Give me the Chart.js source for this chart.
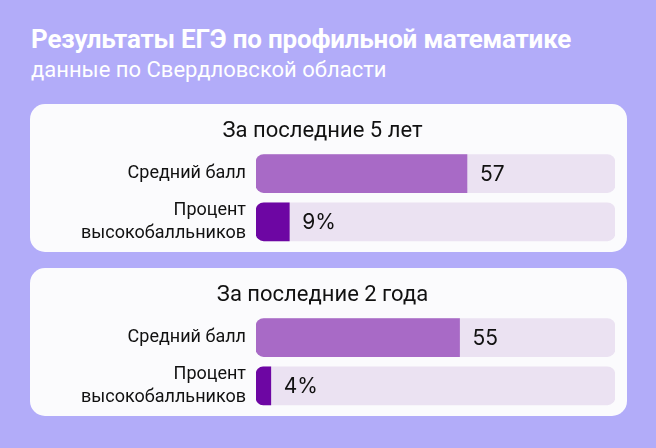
<!DOCTYPE html>
<html>
<head>
<meta charset="utf-8">
<script src="https://cdn.jsdelivr.net/npm/chart.js@4"></script>
<style>
    html, body { margin: 0; padding: 0; }
    body { width: 656px; height: 448px; background: #b2acf9; position: relative; overflow: hidden; font-family: Roboto, sans-serif; }
    #title { position: absolute; left: 31px; top: 24px; color: #fff; font: bold 26px Roboto; letter-spacing: -0.2px; }
    #subtitle { position: absolute; left: 31px; top: 57px; color: #fff; font: 22px Roboto; }
    .card { position: absolute; left: 30px; width: 597px; height: 148px; background: #fbfbfd; border-radius: 15px; }
    .card canvas { display: block; }
</style>
</head>
<body>
<div id="title">Результаты ЕГЭ по профильной математике</div>
<div id="subtitle">данные по Свердловской области</div>
<div class="card" style="top:104px"><canvas id="c1"></canvas></div>
<div class="card" style="top:268px"><canvas id="c2"></canvas></div>
<script>
'use strict';

const categories = [['Средний балл'], ['Процент', 'высокобалльников']];
const periods = ['За последние 5 лет', 'За последние 2 года'];
const values5y = [57, 9];
const values2y = [55, 4];
const units = ['', '%'];
const scaleMax = 97;

const barColors = ['#a86ac6', '#6d06a3'];
const trackColor = '#ebe2f2';

// draws the number just after the end of each value bar
const valueLabels = {
    id: 'valueLabels',
    afterDatasetsDraw(chart) {
        const ctx = chart.ctx;
        const meta = chart.getDatasetMeta(0);
        ctx.save();
        ctx.font = '21px Inter';
        ctx.fillStyle = '#111';
        ctx.textBaseline = 'middle';
        meta.data.forEach((bar, i) => {
            ctx.fillText(chart.data.datasets[0].data[i] + units[i], bar.x + 13, bar.y + 1);
        });
        ctx.restore();
    }
};

function makeChart(id, title, values) {
    return new Chart(document.getElementById(id), {
        type: 'bar',
        data: {
            labels: categories,
            datasets: [{
                data: values,
                backgroundColor: barColors,
                borderRadius: { topLeft: 8, bottomLeft: 8, topRight: 0, bottomRight: 0 },
                borderSkipped: false,
                barThickness: 38,
                order: 0
            }, {
                data: values.map(() => scaleMax),
                backgroundColor: trackColor,
                borderRadius: 8,
                borderSkipped: false,
                barThickness: 38,
                order: 1
            }]
        },
        options: {
            indexAxis: 'y',
            responsive: true,
            maintainAspectRatio: false,
            animation: false,
            datasets: { bar: { grouped: false } },
            layout: { padding: { left: 0, right: 12, top: 0, bottom: 6 } },
            plugins: {
                legend: { display: false },
                tooltip: { enabled: false },
                title: {
                    display: true,
                    text: title,
                    color: '#111',
                    font: { family: 'Roboto', size: 22, weight: 'normal' },
                    padding: { top: 14, bottom: 5 }
                }
            },
            scales: {
                x: { display: false, min: 0, max: scaleMax },
                y: {
                    grid: { display: false },
                    border: { display: false },
                    afterFit(axis) {
                        axis.width = 226;
                        axis.paddingTop = 0;
                        axis.paddingBottom = 0;
                    },
                    ticks: {
                        color: '#111',
                        padding: 2,
                        font: { family: 'Roboto', size: 18, lineHeight: 1.25 }
                    }
                }
            }
        },
        plugins: [valueLabels]
    });
}

makeChart('c1', periods[0], values5y);
makeChart('c2', periods[1], values2y);
</script>
</body>
</html>
